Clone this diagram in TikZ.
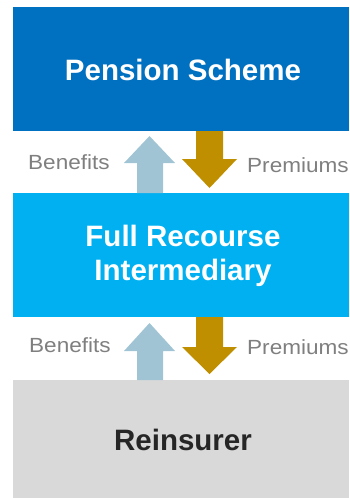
\documentclass[tikz,border=0pt]{standalone}
\usepackage{fontspec}
\setmainfont{Liberation Sans}
\newfontfamily\flowfont[FakeStretch=1.1]{Liberation Sans}
\definecolor{schemeblue}{HTML}{0070C0}
\definecolor{interblue}{HTML}{00B0F0}
\definecolor{reinsgrey}{HTML}{D9D9D9}
\definecolor{benefitblue}{HTML}{A0C4D4}
\definecolor{premiumgold}{HTML}{BF8F00}
\definecolor{labelgrey}{HTML}{7F7F7F}
\begin{document}
\begin{tikzpicture}[x=1pt,y=-1pt,
  tier/.style={font=\fontsize{29.5}{34}\selectfont\bfseries, align=center},
  flowlabel/.style={font=\flowfont\fontsize{20.5}{24}\selectfont, text=labelgrey, inner sep=0pt},
  uparrow/.style={fill=benefitblue},
  downarrow/.style={fill=premiumgold}]
  \useasboundingbox (0,0) rectangle (349,498);

  % tiers
  \fill[schemeblue] (13,7) rectangle (349,131);
  \fill[interblue] (13,193) rectangle (349,317);
  \fill[reinsgrey] (13,380) rectangle (349,498);
  \node[tier, text=white] (scheme) at (183,70) {Pension Scheme};
  \node[tier, text=white] (inter) at (183,256) {Full Recourse\\Intermediary};
  \node[tier, text=black!85] (reins) at (183,440) {Reinsurer};

  % flows between scheme and intermediary
  \fill[uparrow] (137,193) -- (137,163) -- (124,163) -- (149.5,136) -- (175,163) -- (163,163) -- (163,193) -- cycle;
  \fill[downarrow] (196,131) -- (196,159) -- (182,159) -- (209.5,188) -- (237,159) -- (223,159) -- (223,131) -- cycle;
  \node[flowlabel, anchor=west] (ben1) at (28,162) {Benefits};
  \node[flowlabel, anchor=west] (prem1) at (247,165) {Premiums};

  % flows between intermediary and reinsurer
  \fill[uparrow] (137,380) -- (137,351) -- (124,351) -- (149.5,323) -- (175,351) -- (163,351) -- (163,380) -- cycle;
  \fill[downarrow] (196,317) -- (196,347) -- (182,347) -- (209.5,374) -- (237,347) -- (223,347) -- (223,317) -- cycle;
  \node[flowlabel, anchor=west] (ben2) at (29,345) {Benefits};
  \node[flowlabel, anchor=west] (prem2) at (247,347) {Premiums};
\end{tikzpicture}
\end{document}
